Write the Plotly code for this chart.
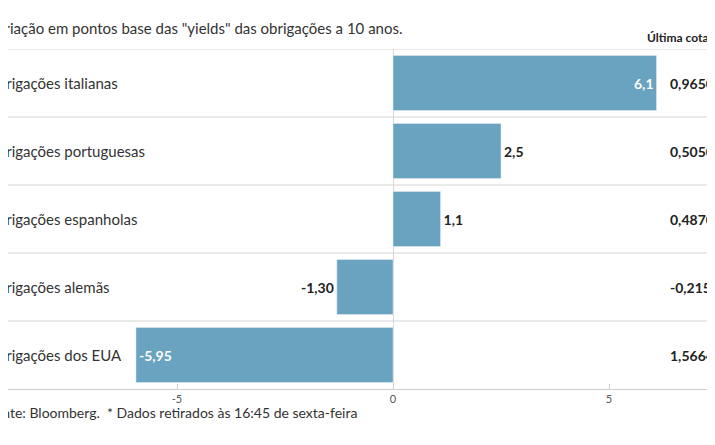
import plotly.graph_objects as go

# dados
categorias = ["Obrigações italianas", "Obrigações portuguesas", "Obrigações espanholas",
              "Obrigações alemãs", "Obrigações dos EUA"]
variacao = [6.1, 2.5, 1.1, -1.30, -5.95]
rotulos = ["6,1", "2,5", "1,1", "-1,30", "-5,95"]
cotacao = ["0,9650", "0,5050", "0,4870", "-0,2150", "1,5664"]
ticks = [-5, 0, 5]

W, H = 715, 445
T, B = 41, 64
px_unidade = 43.2
x0_px = 385
xmin = -x0_px / px_unidade
xmax = (W - x0_px) / px_unidade
PH = H - T - B

y = list(range(len(categorias)))
cor_texto = ["white" if abs(v) > 5 else "#222" for v in variacao]
pos_texto = ["inside" if abs(v) > 5 else "outside" for v in variacao]

fig = go.Figure(go.Bar(
    x=variacao, y=y, orientation="h", width=0.81,
    marker=dict(color="#6aa3bf"),
    text=["<b>" + r + "</b>" for r in rotulos], textposition=pos_texto,
    insidetextanchor="end", textangle=0,
    textfont=dict(color=cor_texto, size=14, family="Lato"),
    cliponaxis=False, hoverinfo="skip",
))

fig.update_layout(
    width=W, height=H, margin=dict(l=0, r=0, t=T, b=B, autoexpand=False),
    paper_bgcolor="white", plot_bgcolor="white",
    font=dict(family="Lato", size=13, color="#222"),
    showlegend=False,
    xaxis=dict(range=[xmin, xmax], tickvals=ticks, ticktext=[str(t) for t in ticks],
               tickfont=dict(size=11, color="#555"), showgrid=False,
               zeroline=True, zerolinecolor="#d8d8d8", zerolinewidth=1,
               ticks="inside", ticklen=5, tickcolor="#ccc",
               showline=True, linecolor="#ccc", fixedrange=True, automargin=False),
    yaxis=dict(range=[len(categorias) - 0.5, -0.5], showticklabels=False,
               showgrid=False, zeroline=False, fixedrange=True, automargin=False),
)

# separadores das linhas
for k in range(len(categorias)):
    fig.add_shape(type="line", xref="paper", x0=0, x1=1, yref="y",
                  y0=k - 0.5, y1=k - 0.5, line=dict(color="#d5d5d5", width=1))

def px_para_paper(p):
    return p / W

for i, (c, v) in enumerate(zip(categorias, cotacao)):
    fig.add_annotation(text=c, xref="paper", x=px_para_paper(-24), xanchor="left",
                       yref="y", y=i, showarrow=False, font=dict(size=15, color="#333"))
    fig.add_annotation(text="<b>" + v + "</b>", xref="paper", x=px_para_paper(660),
                       xanchor="left", yref="y", y=i, showarrow=False,
                       font=dict(size=14, color="#222"))

fig.add_annotation(text="Variação em pontos base das \"yields\" das obrigações a 10 anos.",
                   xref="paper", yref="paper", x=px_para_paper(-22), xanchor="left",
                   y=1 + 21 / PH, yanchor="middle", showarrow=False,
                   font=dict(size=15, color="#333"))
fig.add_annotation(text="<b>Última cotação</b>", xref="paper", yref="paper",
                   x=px_para_paper(637), xanchor="left",
                   y=1 + 2 / PH, yanchor="bottom", showarrow=False,
                   font=dict(size=12, color="#222"))
fig.add_annotation(text="Fonte: Bloomberg.  * Dados retirados às 16:45 de sexta-feira",
                   xref="paper", yref="paper", x=px_para_paper(-23), xanchor="left",
                   y=-23 / PH, yanchor="middle", showarrow=False,
                   font=dict(size=14, color="#333"))

fig.write_html("out.html")
